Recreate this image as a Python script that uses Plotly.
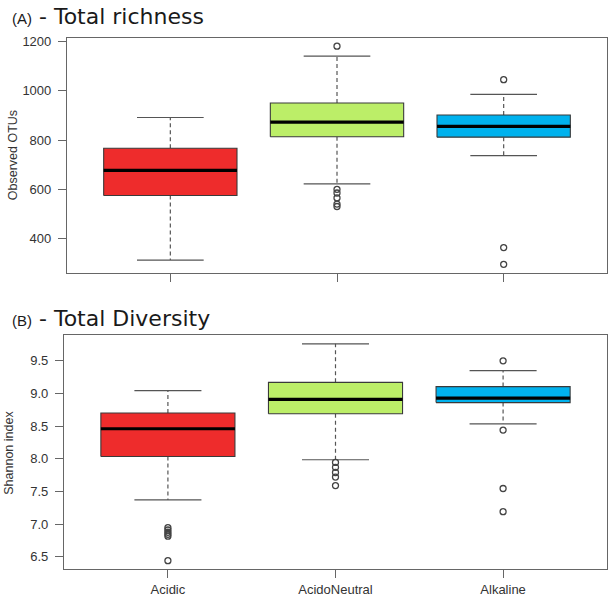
import plotly.graph_objects as go

categories = ["Acidic", "AcidoNeutral", "Alkaline"]
box_colors = ["#EE2C2C", "#BCEE68", "#00B2EE"]

# Panel A - Observed OTUs
a_lower = [312, 622, 737]
a_q1 = [575, 814, 812]
a_median = [677, 873, 856]
a_q3 = [767, 951, 902]
a_upper = [892, 1142, 986]
a_outliers = [[], [1182, 600, 585, 565, 540, 530], [1046, 363, 295]]

# Panel B - Shannon index
b_lower = [7.37, 7.985, 8.535]
b_q1 = [8.035, 8.69, 8.86]
b_median = [8.46, 8.91, 8.93]
b_q3 = [8.70, 9.17, 9.105]
b_upper = [9.045, 9.76, 9.35]
b_outliers = [[6.945, 6.91, 6.875, 6.845, 6.815, 6.44],
              [7.945, 7.87, 7.79, 7.72, 7.59],
              [9.50, 8.44, 7.545, 7.19]]

a_ticks = [400, 600, 800, 1000, 1200]
b_ticks = [6.5, 7.0, 7.5, 8.0, 8.5, 9.0, 9.5]

BOXW = 0.8
CAPW = 0.4
EDGE = "#3a3a3a"
WHISK = "#555555"

fig = go.Figure()


def add_panel(xa, ya, lower, q1, med, q3, upper, outl):
    for i, cat in enumerate(categories):
        x = i + 1
        L, R = x - BOXW / 2, x + BOXW / 2
        # whiskers (dashed)
        fig.add_trace(go.Scatter(x=[x, x, None, x, x], y=[q3[i], upper[i], None, q1[i], lower[i]],
                                 mode="lines", line=dict(color=WHISK, width=1.2, dash="4px,3px"),
                                 xaxis=xa, yaxis=ya, showlegend=False, hoverinfo="skip"))
        # caps
        fig.add_trace(go.Scatter(x=[x - CAPW / 2, x + CAPW / 2, None, x - CAPW / 2, x + CAPW / 2],
                                 y=[upper[i], upper[i], None, lower[i], lower[i]],
                                 mode="lines", line=dict(color=WHISK, width=1.2),
                                 xaxis=xa, yaxis=ya, showlegend=False, hoverinfo="skip"))
        # box
        fig.add_trace(go.Scatter(x=[L, R, R, L, L], y=[q1[i], q1[i], q3[i], q3[i], q1[i]],
                                 mode="lines", fill="toself", fillcolor=box_colors[i],
                                 line=dict(color=EDGE, width=1.1),
                                 xaxis=xa, yaxis=ya, showlegend=False, name=cat))
        # median
        fig.add_trace(go.Scatter(x=[L, R], y=[med[i], med[i]], mode="lines",
                                 line=dict(color="black", width=3.2),
                                 xaxis=xa, yaxis=ya, showlegend=False, hoverinfo="skip"))
        # outliers
        if outl[i]:
            fig.add_trace(go.Scatter(x=[x] * len(outl[i]), y=outl[i], mode="markers",
                                     marker=dict(symbol="circle-open", size=6, color="#444444",
                                                 line=dict(color="#444444", width=1.3)),
                                     xaxis=xa, yaxis=ya, showlegend=False))


add_panel("x", "y", a_lower, a_q1, a_median, a_q3, a_upper, a_outliers)
add_panel("x2", "y2", b_lower, b_q1, b_median, b_q3, b_upper, b_outliers)

W, H = 614, 603
tickfont = dict(family="Liberation Sans, Arial, sans-serif", size=13, color="#333333")
axis_common = dict(showline=True, mirror=True, linecolor="#666666", linewidth=1.2,
                   showgrid=False, zeroline=False, ticks="outside", ticklen=8,
                   tickcolor="#666666", tickwidth=1.2, tickfont=tickfont)

fig.update_layout(
    width=W, height=H,
    margin=dict(l=0, r=0, t=0, b=0),
    plot_bgcolor="white", paper_bgcolor="white",
    showlegend=False,
    xaxis=dict(domain=[67 / W, 607 / W], range=[0.38, 3.62], anchor="y",
               tickvals=[1, 2, 3], ticktext=["", "", ""], **axis_common),
    yaxis=dict(domain=[1 - 271 / H, 1 - 35 / H], range=[261, 1216], anchor="x",
               tickvals=a_ticks, ticklabelstandoff=4, **axis_common),
    xaxis2=dict(domain=[64 / W, 607 / W], range=[0.38, 3.62], anchor="y2",
                tickvals=[1, 2, 3], ticktext=categories, **axis_common),
    yaxis2=dict(domain=[1 - 569 / H, 1 - 334 / H], range=[6.31, 9.89], anchor="x2",
                tickvals=b_ticks, tickformat=".1f", ticklabelstandoff=4, **axis_common),
)

title_font = dict(family="DejaVu Sans, Verdana, sans-serif", size=22, color="#1a1a1a")
fig.add_annotation(x=10 / W, y=1 - 14 / H, xref="paper", yref="paper", xanchor="left", yanchor="middle",
                   text="<span style='font-size:15px;font-family:Liberation Sans'>(A)</span> - Total richness",
                   showarrow=False, font=title_font)
fig.add_annotation(x=10 / W, y=1 - 317 / H, xref="paper", yref="paper", xanchor="left", yanchor="middle",
                   text="<span style='font-size:15px;font-family:Liberation Sans'>(B)</span> - Total Diversity",
                   showarrow=False, font=title_font)

ytitle_font = dict(family="Liberation Sans, Arial, sans-serif", size=12.5, color="#333333")
fig.add_annotation(x=13 / W, y=1 - 153 / H, xref="paper", yref="paper", xanchor="center", yanchor="middle",
                   text="Observed OTUs", textangle=-90, showarrow=False, font=ytitle_font)
fig.add_annotation(x=9 / W, y=1 - 452 / H, xref="paper", yref="paper", xanchor="center", yanchor="middle",
                   text="Shannon index", textangle=-90, showarrow=False, font=ytitle_font)

fig.write_html("out.html", config={"displayModeBar": False},
               post_script="document.body.style.margin='0px';")
